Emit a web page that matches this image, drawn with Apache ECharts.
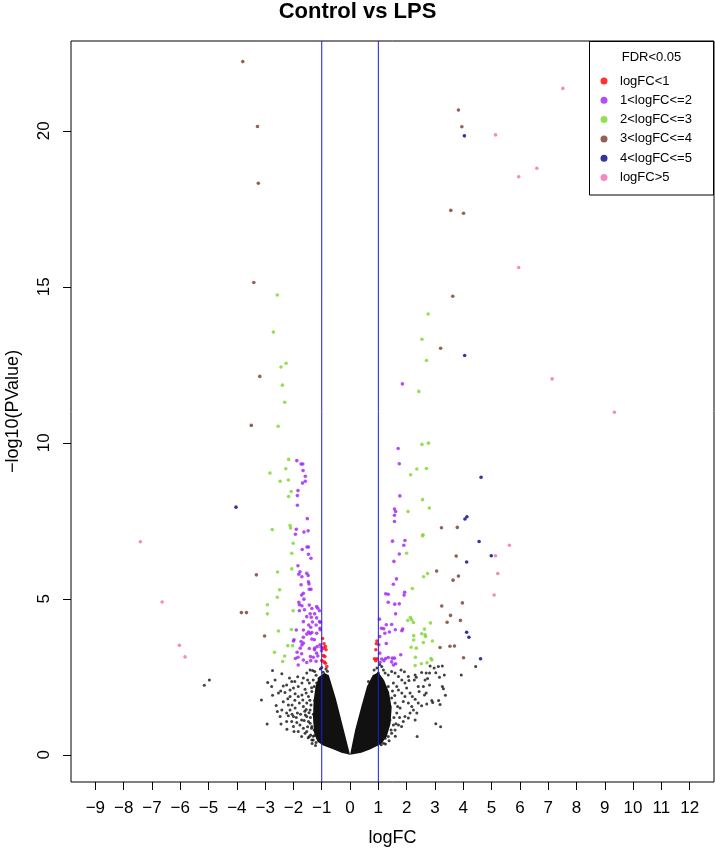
<!DOCTYPE html>
<html>
<head>
<meta charset="utf-8">
<script src="https://cdn.jsdelivr.net/npm/echarts@6/dist/echarts.min.js"></script>
<style>html,body{margin:0;padding:0;background:#fff;}#chart{width:715px;height:848px;}</style>
</head>
<body>
<div id="chart"></div>
<script>
// ---- data (logFC, -log10(PValue)) ----
var xTicks = [-9,-8,-7,-6,-5,-4,-3,-2,-1,0,1,2,3,4,5,6,7,8,9,10,11,12];
var yTicks = [0,5,10,15,20];
var cutLines = [-1, 1];

var sigRed = [[-0.97,3.73],[-0.92,3.56],[-0.87,3.47],[-0.85,3.37],[-0.94,3.42],[-0.94,3.18],[-0.89,3.15],[-1.00,3.02],[-0.92,2.98],[-0.87,2.94],[-0.82,2.83],
  [0.95,3.65],[0.93,3.56],[0.91,3.37],[0.86,3.08],[0.91,3.02],[0.95,3.08]];

var sigPurple = [[-1.88,9.43],[-1.73,9.32],[-1.67,9.32],[-1.66,9.11],[-1.58,8.93],[-1.58,8.77],[-1.68,8.71],[-1.84,8.47],[-1.86,8.31],[-1.86,8.00],[-1.51,7.57],[-1.90,7.23],[-1.93,7.07],[-1.63,7.14],[-1.48,7.18],[-1.69,6.58],[-1.52,6.66],[-1.47,6.66],[-1.47,6.43],[-1.38,6.30],
  [-1.84,6.06],[-1.77,5.87],[-1.81,5.79],[-1.70,5.71],[-1.53,5.82],[-1.48,5.75],[-1.47,5.55],[-1.45,5.48],[-1.73,5.45],[-1.44,5.31],[-1.38,5.31],[-1.65,5.18],[-1.71,5.12],[-1.81,4.89],[-1.79,4.81],[-1.63,4.99],[-1.70,4.78],[-1.44,4.80],[-1.35,4.69],[-1.18,4.75],[-1.14,4.70],[-1.79,4.62],[-1.61,4.65],[-1.08,4.62],[-1.41,4.52],[-1.25,4.52],[-1.53,4.43],[-1.37,4.41],[-1.18,4.39],[-1.65,4.27],[-1.33,4.26],[-1.08,4.27],[-1.05,4.25],[-1.46,4.16],[-1.39,4.09],[-1.20,4.16],[-1.06,4.06],[-1.90,4.00],[-1.65,4.00],[-1.47,3.94],[-1.35,3.92],[-1.53,3.87],[-1.41,3.88],[-1.18,3.90],[-1.05,4.01],[-1.65,3.77],[-1.98,3.69],[-2.00,3.65],[-1.73,3.63],[-1.65,3.58],[-1.35,3.71],[-1.26,3.69],[-1.06,3.53],[-1.02,3.45],[-1.16,3.47],[-1.25,3.42],[-1.70,3.52],[-1.76,3.42],[-1.44,3.41],[-1.26,3.37],[-1.01,3.34],[-1.87,3.29],[-1.71,3.24],[-1.84,3.13],[-1.93,3.09],[-1.40,3.15],[-1.30,3.13],[-1.18,3.26],[-1.14,3.17],[-1.65,3.04],[-1.53,2.96],[-1.83,2.88],[-1.39,3.02],[-1.20,3.00],
  [1.85,11.89],[1.70,9.82],[1.74,9.33],[1.76,8.30],[1.57,7.88],[1.61,7.80],[1.57,7.68],[1.57,7.48],[1.50,6.85],[1.94,6.87],[1.90,6.72],[1.74,6.44],[1.55,6.20],[1.64,5.64],[1.53,5.47],[1.26,5.16],[1.35,5.15],[1.93,5.21],[1.91,5.12],[1.35,4.89],[1.58,4.83],[1.74,4.84],[1.61,4.52],[1.04,4.35],[1.11,4.06],[1.19,4.04],[1.28,4.17],[1.47,4.18],[1.60,4.01],[1.83,3.98],[1.86,4.03],[1.05,3.79],[1.23,3.90],[1.39,3.94],[1.28,3.57],[1.02,3.53],[1.05,3.26],[1.79,3.21],[1.12,3.07],[1.26,3.09],[1.35,3.12],[1.49,3.10],[1.57,3.10],[1.20,3.02],[1.47,2.98],[1.53,2.88],[1.61,2.92],[1.06,2.97]];

var sigGreen = [[-2.57,14.74],[-2.71,13.55],[-2.26,12.55],[-2.44,12.43],[-2.39,11.85],[-2.31,11.30],[-2.54,10.53],[-2.17,9.47],[-2.27,9.17],[-2.83,9.03],[-2.47,8.77],[-2.18,8.81],[-2.08,8.44],[-2.17,8.28],[-2.75,7.22],[-2.12,7.35],[-2.10,7.27],[-2.01,6.78],[-2.06,6.46],[-2.56,5.86],[-2.06,5.96],[-2.49,5.29],[-2.57,5.05],[-2.92,4.81],[-2.01,4.62],[-2.92,4.52],[-2.53,3.97],[-2.07,4.02],[-2.20,3.50],[-2.03,3.50],[-2.67,3.29],[-2.31,3.17],[-2.38,2.99],
  [2.76,14.13],[2.54,13.32],[2.70,12.64],[2.43,11.65],[2.54,9.95],[2.77,9.99],[2.36,9.16],[2.70,9.18],[2.14,8.98],[2.56,8.18],[2.80,7.91],[2.05,7.80],[2.58,7.05],[2.56,7.02],[2.00,6.46],[2.74,5.81],[2.60,5.71],[2.20,5.33],[2.04,4.31],[2.13,4.40],[2.18,4.33],[2.24,4.24],[2.84,4.23],[2.63,4.03],[2.53,3.88],[2.67,3.79],[2.65,3.85],[2.25,3.82],[2.25,3.68],[2.91,3.65],[2.59,3.60],[2.16,3.45],[2.34,3.42],[2.31,3.13],[2.30,2.86],[2.52,2.92],[2.72,2.95],[2.86,3.09],[2.89,3.04]];

var sigBrown = [[-3.79,22.22],[-3.27,20.14],[-3.24,18.32],[-3.40,15.14],[-3.19,12.13],[-3.49,10.56],[-3.31,5.77],[-3.84,4.56],[-3.66,4.56],[-3.02,3.81],
  [3.83,20.67],[3.95,20.13],[3.56,17.45],[4.01,17.36],[3.63,14.70],[3.20,13.03],[3.23,7.28],[3.79,7.29],[3.75,6.37],[3.06,5.89],[3.83,5.73],[3.64,5.60],[3.97,4.87],[3.24,4.77],[3.55,4.47],[3.90,4.31],[3.43,4.25],[3.18,3.44],[3.53,3.48],[3.69,3.49],[4.01,3.11]];

var sigBlue = [[-4.03,7.94],[4.04,19.84],[4.05,12.80],[4.63,8.90],[4.13,7.63],[4.06,7.56],[4.56,6.84],[4.99,6.38],[4.12,6.18],[4.12,3.93],[4.20,3.77],[4.61,3.08]];

var sigPink = [[-7.41,6.83],[-6.64,4.90],[-6.03,3.51],[-5.83,3.14],
  [7.52,21.36],[5.14,19.87],[6.60,18.80],[5.96,18.53],[5.96,15.62],[7.14,12.05],[9.34,10.98],[5.63,6.72],[5.14,6.38],[5.22,5.81],[5.09,5.12]];

// non-significant genes, scattered part
var nsScatter = [[-4.97,2.40],[-5.15,2.23],[4.44,2.83],[3.93,2.56],
  [-2.74,2.70],[-2.41,2.60],[-2.91,2.32],[-3.13,1.76],[-2.74,1.91],[-2.61,1.58],[-2.93,0.99],[-2.44,0.99],[-2.23,0.82],[-1.98,0.75],[-2.14,2.46],[-2.06,2.35],[-2.24,2.24],[-2.36,2.21],[-2.12,2.08],[-2.00,2.14],[-1.83,2.19],[-1.65,2.46],[-1.53,2.62],[-1.41,2.72],[-1.32,2.70],[-1.25,2.67],[-1.70,1.92],[-1.94,1.96],[-2.12,1.87],[-2.36,1.70],[-2.18,1.60],[-2.41,1.44],[-2.24,1.34],[-2.00,1.23],[-1.86,1.34],[-1.79,1.66],[-1.65,1.55],[-1.53,1.66],[-1.47,1.87],[-1.35,2.03],[-1.27,2.19],[-1.18,2.30],[-1.41,1.44],[-1.58,1.28],[-1.71,1.12],[-1.77,0.96],[-1.65,0.85],[-1.53,0.75],[-1.39,0.64],[-1.30,0.48],[-1.20,0.40],[-1.12,0.59],[-1.35,0.91],[-1.24,1.07],[-1.15,1.23],[-1.47,1.07],[-1.88,1.04],[-2.06,1.07],[-2.18,1.25],[-2.47,1.23],[-2.57,1.39],[-2.77,2.19],[-2.65,2.40],[-2.53,1.98],[-1.83,1.87],[-1.59,2.10],[-1.44,2.30],[-1.55,1.98],[-1.67,1.76],[-1.94,1.50],[-2.12,1.44],[-1.53,1.23],[-1.41,1.01],[-1.27,0.80],[-1.18,0.75],[-1.35,0.48],[-1.44,0.59],[-1.59,0.69],[-1.71,0.59],[-1.83,0.75],[-2.00,0.91],[-2.24,1.07],
  [-1.10,2.45],[-1.20,2.55],[-1.05,2.75],[-0.95,2.65],[-1.30,2.40],[-1.15,1.90],[-1.25,1.75],[-1.10,1.40],[-1.30,1.30],[-1.20,0.95],[-1.05,0.70],[-1.15,0.55],[-1.25,0.62],[-1.00,0.45],[-1.38,1.60],[-1.45,1.35],[-1.60,1.40],[-1.75,1.30],[-1.90,1.20],[-2.05,1.30],[-1.95,1.75],[-2.05,1.60],[-2.20,1.80],[-2.30,2.00],[-2.45,2.05],[-1.50,2.40],[-1.70,2.30],[-1.85,2.50],[-1.95,2.35],
  [-1.36,0.85],[-1.40,1.20],[-1.42,1.75],[-1.36,2.15],[-1.30,0.60],[-1.50,0.90],[-1.55,1.45],[-1.62,1.10],[-1.48,0.55],[-1.34,0.36],[-1.22,0.30],[-0.85,2.75],[-0.80,2.68],[-1.00,2.80],
  [2.30,2.56],[2.34,2.49],[2.53,2.64],[2.69,2.62],[2.81,2.62],[3.03,2.63],[3.12,2.83],[3.26,2.85],[3.33,2.56],[3.16,2.49],[2.81,2.24],[2.59,2.19],[3.26,2.19],[3.30,2.12],[3.37,1.91],[2.69,1.98],[2.63,1.92],[2.89,1.74],[2.92,1.68],[2.71,1.63],[3.13,1.74],[3.18,1.61],[2.53,1.57],[2.41,1.66],[2.30,1.78],[2.20,1.87],[2.12,1.98],[2.00,2.14],[1.94,2.30],[1.83,2.40],[1.71,2.51],[1.59,2.62],[1.47,2.67],[1.35,2.56],[1.24,2.62],[1.80,2.72],[1.92,2.66],[2.06,2.51],[2.08,2.38],[2.27,2.40],[2.18,1.55],[2.24,1.44],[2.12,1.34],[1.94,1.23],[2.06,1.18],[1.88,1.07],[1.71,0.96],[1.82,0.91],[1.59,0.80],[1.47,0.69],[1.35,0.59],[1.24,0.53],[1.65,1.34],[1.77,1.50],[1.59,1.66],[1.47,1.82],[1.94,1.87],[1.83,1.98],[1.71,2.08],[2.06,1.66],[1.88,1.71],[1.35,2.19],[1.30,2.03],[1.53,2.30],[1.65,2.19],[1.41,1.55],[1.30,1.34],[1.41,1.12],[1.53,0.96],[1.30,0.91],[1.18,0.75],[1.12,0.48],[1.18,0.37],[1.10,0.32],[2.41,2.19],[2.44,2.03],[2.36,1.34],[2.30,1.12],[2.65,2.40],[2.74,2.45],[2.83,2.85],[2.97,2.78],[3.03,1.00],[3.20,0.90],[2.37,0.59],
  [1.00,2.62],[1.06,2.40],[0.88,2.30],[0.77,2.19],[0.65,2.35],[0.71,2.03],[1.12,2.83],[1.18,2.72],
  [1.55,1.20],[1.62,1.00],[1.68,1.55],[1.75,1.20],[1.58,1.90],[1.50,2.05],[1.45,0.80],[1.60,0.60],[1.38,0.45],[1.25,0.35],[0.95,2.78],[0.85,2.72],[1.05,2.90]];

// outlines of the solid, fully over-plotted cores of the non-significant cloud
var coreLeft = [[0,0],[-0.3,0.07],[-0.6,0.18],[-0.95,0.3],[-1.15,0.42],[-1.27,0.7],[-1.31,1.2],[-1.29,1.7],[-1.22,2.2],[-1.1,2.5],[-0.9,2.62],[-0.75,2.55],[-0.5,1.8],[-0.25,0.9]];
var coreRight = [[0,0],[0.18,0.8],[0.4,1.55],[0.6,2.2],[0.8,2.55],[1.0,2.65],[1.2,2.4],[1.38,2.0],[1.47,1.5],[1.43,1.0],[1.3,0.6],[1.1,0.35],[0.7,0.17],[0.4,0.07]];

var groupNames = ['logFC<1','1<logFC<=2','2<logFC<=3','3<logFC<=4','4<logFC<=5','logFC>5'];
var groupColors = ['#ff0000','#a020f0','#7cd62a','#7a3a2a','#00008b','#f06eb0'];
var groupData = [sigRed, sigPurple, sigGreen, sigBrown, sigBlue, sigPink];
var cores = [coreLeft, coreRight];

var FONT = '"Liberation Sans", Arial, Helvetica, sans-serif';
function fmt(v){ return v < 0 ? '\u2212' + (-v) : String(v); }

var chart = echarts.init(document.getElementById('chart'), null, {renderer:'canvas'});

var series = [];
series.push({
  type:'custom', name:'core', coordinateSystem:'cartesian2d', silent:true, z:1,
  data: cores.map(function(c,i){ return [i, 0]; }),
  renderItem: function(params, api){
    var poly = cores[api.value(0)];
    return {type:'polygon', shape:{points: poly.map(function(p){ return api.coord(p); })}, style:{fill:'#111111'}};
  }
});
series.push({
  type:'scatter', name:'ns', data: nsScatter, symbolSize:3, z:2, silent:true,
  itemStyle:{color:'#111111'}
});
groupNames.forEach(function(n,i){
  series.push({type:'scatter', name:n, data: groupData[i], symbolSize:3.6, z:3, silent:true,
    itemStyle:{color: groupColors[i]}});
});
// vertical cut-off lines at logFC = -1 and 1, spanning the full plot height
series.push({
  type:'custom', name:'cut', coordinateSystem:'cartesian2d', silent:true, z:6, clip:false,
  data: cutLines.map(function(v){ return [v, 0]; }),
  renderItem: function(params, api){
    var x = api.coord([api.value(0), 0])[0];
    var cs = params.coordSys;
    return {type:'line', shape:{x1:x, y1:cs.y, x2:x, y2:cs.y + cs.height},
      style:{stroke:'#1a1ae6', lineWidth:1}};
  }
});

chart.setOption({
  animation:false,
  backgroundColor:'#ffffff',
  title:{text:'Control vs LPS', left:'center', top:1, padding:0,
    textStyle:{fontFamily:FONT, fontSize:22, fontWeight:'bold', color:'#000'}},
  grid:{left:71, right:1, top:41, bottom:66, show:true, borderColor:'#000', borderWidth:1, backgroundColor:'transparent', outerBoundsMode:'none', containLabel:false},
  xAxis:{type:'value', min:-9.86, max:12.86, name:'logFC', nameLocation:'middle', nameGap:47,
    nameTextStyle:{fontFamily:FONT, fontSize:18, color:'#000'},
    axisLine:{show:false, onZero:false}, splitLine:{show:false},
    axisTick:{show:true, inside:false, length:8, customValues:xTicks, lineStyle:{color:'#000'}},
    axisLabel:{customValues:xTicks, formatter:fmt, margin:18, fontFamily:FONT, fontSize:17, color:'#000'}},
  yAxis:{type:'value', min:-0.87, max:22.88, name:'\u2212log10(PValue)', nameLocation:'middle', nameGap:49, nameRotate:90,
    nameTextStyle:{fontFamily:FONT, fontSize:18, color:'#000'},
    axisLine:{show:false, onZero:false}, splitLine:{show:false},
    axisTick:{show:true, inside:false, length:8, customValues:yTicks, lineStyle:{color:'#000'}},
    axisLabel:{customValues:yTicks, formatter:fmt, rotate:90, margin:18, fontFamily:FONT, fontSize:17, color:'#000'}},
  legend:{data:groupNames, orient:'vertical', left:600.5, top:74.5, itemWidth:22, itemHeight:7, itemGap:6.3,
    icon:'circle', symbolKeepAspect:true, selectedMode:false, padding:0,
    textStyle:{fontFamily:FONT, fontSize:13, color:'#000'}},
  graphic:[
    {type:'rect', z:-1, shape:{x:589.5, y:41.5, width:124, height:153.5}, style:{fill:'#fff', stroke:'#000', lineWidth:1}},
    {type:'text', z:10, x:651.5, y:57, style:{text:'FDR<0.05', fontFamily:FONT, fontSize:13, fill:'#000', align:'center', verticalAlign:'middle'}}
  ],
  series: series
});
</script>
</body>
</html>
